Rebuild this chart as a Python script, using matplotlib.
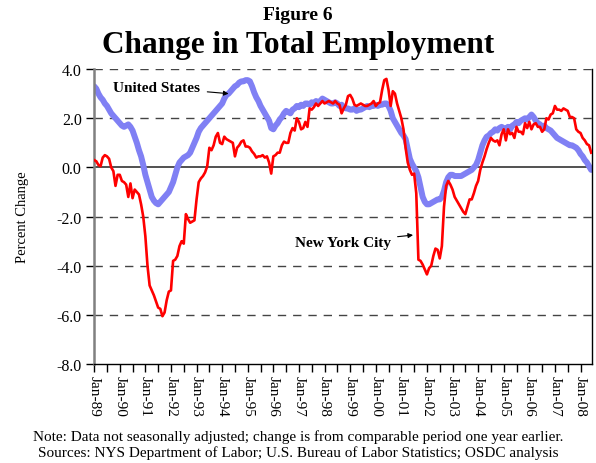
import numpy as np
import matplotlib
matplotlib.use("Agg")
import matplotlib.pyplot as plt

plt.rcParams['font.family'] = ['Liberation Serif', 'DejaVu Serif']

# monthly year-over-year % change, Jan-89 .. Jun-08
us_change = [
    3.3, 3.2, 3.0, 2.85, 2.75, 2.6, 2.5, 2.35, 2.2, 2.1, 2.0, 1.9,            # 1989
    1.8, 1.7, 1.65, 1.7, 1.75, 1.65, 1.5, 1.25, 1.0, 0.7, 0.45, 0.1,          # 1990
    -0.3, -0.6, -0.9, -1.2, -1.35, -1.45, -1.5, -1.4, -1.3, -1.2, -1.1, -1.0, # 1991
    -0.8, -0.6, -0.3, 0.0, 0.2, 0.3, 0.4, 0.45, 0.5, 0.6, 0.8, 1.0,           # 1992
    1.2, 1.45, 1.6, 1.7, 1.8, 1.9, 2.0, 2.1, 2.2, 2.3, 2.4, 2.5,              # 1993
    2.6, 2.8, 2.95, 3.0, 3.1, 3.2, 3.3, 3.35, 3.45, 3.5, 3.5, 3.55,           # 1994
    3.55, 3.5, 3.3, 3.05, 2.85, 2.7, 2.5, 2.35, 2.2, 2.05, 1.9, 1.6,          # 1995
    1.55, 1.7, 1.8, 1.95, 2.05, 2.2, 2.3, 2.25, 2.2, 2.35, 2.4, 2.5,          # 1996
    2.45, 2.55, 2.5, 2.6, 2.6, 2.55, 2.65, 2.6, 2.7, 2.65, 2.7, 2.8,          # 1997
    2.75, 2.7, 2.65, 2.6, 2.6, 2.65, 2.6, 2.5, 2.55, 2.45, 2.4, 2.4,          # 1998
    2.35, 2.35, 2.4, 2.3, 2.35, 2.35, 2.4, 2.45, 2.5, 2.45, 2.5, 2.5,         # 1999
    2.55, 2.5, 2.55, 2.55, 2.6, 2.6, 2.5, 2.3, 2.0, 1.85, 1.7, 1.55,          # 2000
    1.4, 1.3, 1.15, 0.75, 0.35, 0.15, 0.0, -0.15, -0.4, -0.8, -1.2, -1.4,     # 2001
    -1.5, -1.5, -1.45, -1.4, -1.35, -1.3, -1.3, -1.2, -0.95, -0.6, -0.4, -0.3,  # 2002
    -0.3, -0.35, -0.35, -0.35, -0.35, -0.3, -0.25, -0.2, -0.15, -0.1, 0.0, 0.1,  # 2003
    0.3, 0.6, 0.9, 1.1, 1.25, 1.3, 1.4, 1.45, 1.55, 1.5, 1.6, 1.65,           # 2004
    1.6, 1.55, 1.65, 1.55, 1.7, 1.75, 1.85, 1.8, 1.9, 1.95, 2.0, 1.95,        # 2005
    2.05, 2.15, 2.05, 1.9, 1.8, 1.75, 1.65, 1.7, 1.6, 1.55, 1.5, 1.4,         # 2006
    1.3, 1.2, 1.15, 1.1, 1.05, 1.0, 0.95, 0.9, 0.9, 0.85, 0.8, 0.7,           # 2007
    0.55, 0.45, 0.3, 0.2, 0.05, -0.1,                                         # 2008
]

nyc_change = [
    0.3, 0.25, 0.1, 0.05, 0.4, 0.5, 0.45, 0.35, 0.0, -0.15, -0.75, -0.3,      # 1989
    -0.3, -0.55, -0.6, -0.7, -1.2, -0.65, -1.25, -0.9, -1.0, -1.1, -1.5, -2.0,  # 1990
    -2.8, -4.0, -4.8, -5.0, -5.2, -5.45, -5.7, -5.75, -6.05, -5.9, -5.4, -5.05,  # 1991
    -5.0, -3.8, -3.75, -3.6, -3.2, -3.0, -3.1, -1.9, -2.1, -2.25, -2.2, -2.15,  # 1992
    -1.3, -0.6, -0.45, -0.35, -0.2, 0.05, 0.8, 0.7, 0.9, 1.25, 1.4, 1.0,      # 1993
    0.95, 1.25, 1.15, 1.1, 1.05, 1.0, 0.45, 0.8, 0.9, 1.05, 1.1, 0.85,        # 1994
    0.85, 0.8, 0.65, 0.55, 0.4, 0.45, 0.45, 0.5, 0.4, 0.45, 0.2, -0.25,       # 1995
    0.45, 0.5, 0.6, 0.6, 0.9, 1.05, 1.0, 1.0, 1.4, 1.6, 1.5, 2.0,             # 1996
    1.85, 1.55, 1.6, 1.85, 1.65, 2.4, 2.35, 2.45, 2.6, 2.5, 2.6, 2.7,         # 1997
    2.6, 2.65, 2.7, 2.65, 2.6, 2.7, 2.6, 2.55, 2.2, 2.4, 2.55, 2.9,           # 1998
    2.95, 2.8, 2.55, 2.5, 2.55, 2.6, 2.55, 2.5, 2.5, 2.55, 2.6, 2.7,          # 1999
    2.5, 2.6, 2.65, 3.15, 3.55, 3.6, 3.15, 2.5, 3.1, 3.0, 2.6, 2.3,           # 2000
    2.0, 1.55, 0.8, 0.2, -0.1, -0.3, -0.25, -1.05, -3.75, -3.8, -3.95, -4.15,  # 2001
    -4.35, -4.1, -4.0, -3.6, -3.3, -3.35, -3.7, -3.2, -1.6, -0.75, -0.55, -0.7,  # 2002
    -0.9, -1.2, -1.35, -1.5, -1.65, -1.8, -1.9, -1.6, -1.3, -1.3, -1.05, -0.75,  # 2003
    -0.55, -0.1, 0.2, 0.45, 0.75, 1.0, 1.2, 1.1, 1.05, 1.1, 0.9, 1.35,        # 2004
    1.55, 1.1, 1.55, 1.35, 1.4, 1.2, 1.65, 1.45, 1.45, 1.35, 1.8, 1.6,        # 2005
    1.85, 1.55, 1.75, 1.8, 1.65, 1.65, 1.45, 1.55, 2.0, 1.95, 2.15, 2.2,      # 2006
    2.5, 2.35, 2.35, 2.3, 2.4, 2.35, 2.3, 2.05, 2.05, 2.0, 1.55, 1.45,        # 2007
    1.4, 1.2, 1.1, 0.95, 0.9, 0.6,                                            # 2008
]

year_labels = ['Jan-%02d' % (y % 100) for y in range(1989, 2009)]

months = np.arange(len(us_change))

fig = plt.figure(figsize=(5.96, 4.64), dpi=100)
ax = fig.add_axes([0.158, 0.213, 0.835, 0.636])

# grid lines
for v in [4, 2, -2, -4, -6]:
    ax.axhline(v, color='#444444', lw=1.0, ls=(0, (6, 5)), zorder=1)
ax.axhline(0, color='#333333', lw=1.2, zorder=1)

ax.plot(months, us_change, color='#8080f4', lw=4.3, solid_capstyle='round', zorder=2)
ax.plot(months, nyc_change, color='#ff0000', lw=1.9, zorder=3)

ax.set_xlim(0, 233.3)
ax.set_ylim(-8, 4)

ax.set_xticks(np.arange(0, 12 * len(year_labels), 12))
ax.set_xticklabels(year_labels, rotation=270, fontsize=11)
ax.set_xticks(np.arange(6, 234, 12), minor=True)
ax.tick_params(axis='x', which='both', direction='out', length=6, width=1, pad=1.5)

ax.set_yticks(np.arange(-8, 4.1, 2))
ax.set_yticklabels(['%.1f' % v for v in np.arange(-8, 4.1, 2)], fontsize=11.5)
ax.tick_params(axis='y', direction='out', length=6, width=1, pad=3)

ax.spines['top'].set_visible(False)
ax.spines['left'].set_color('#808080')
ax.spines['left'].set_linewidth(1.8)
ax.spines['bottom'].set_linewidth(1.0)
ax.spines['right'].set_linewidth(1.0)

ax.set_ylabel('Percent Change', fontsize=10.5, labelpad=20)

ax.annotate('United States', xy=(63, 3.0), xytext=(9, 3.25),
            fontsize=11, fontweight='bold', va='center',
            arrowprops=dict(arrowstyle='-|>', mutation_scale=7, color='black',
                            lw=0.8, shrinkA=3, shrinkB=0))
ax.annotate('New York City', xy=(149.5, -2.75), xytext=(139, -3.05),
            fontsize=11, fontweight='bold', va='center', ha='right',
            arrowprops=dict(arrowstyle='-|>', mutation_scale=7, color='black',
                            lw=0.8, shrinkA=3, shrinkB=0))

fig.text(0.5, 0.966, 'Figure 6', ha='center', va='center', fontsize=14, fontweight='bold')
fig.text(0.5, 0.902, 'Change in Total Employment', ha='center', va='center',
         fontsize=22.5, fontweight='bold')

fig.text(0.5, 0.058, 'Note: Data not seasonally adjusted; change is from comparable period one year earlier.',
         ha='center', va='center', fontsize=11)
fig.text(0.5, 0.023, 'Sources: NYS Department of Labor; U.S. Bureau of Labor Statistics; OSDC analysis',
         ha='center', va='center', fontsize=11)

fig.savefig('out.png', dpi=100)
